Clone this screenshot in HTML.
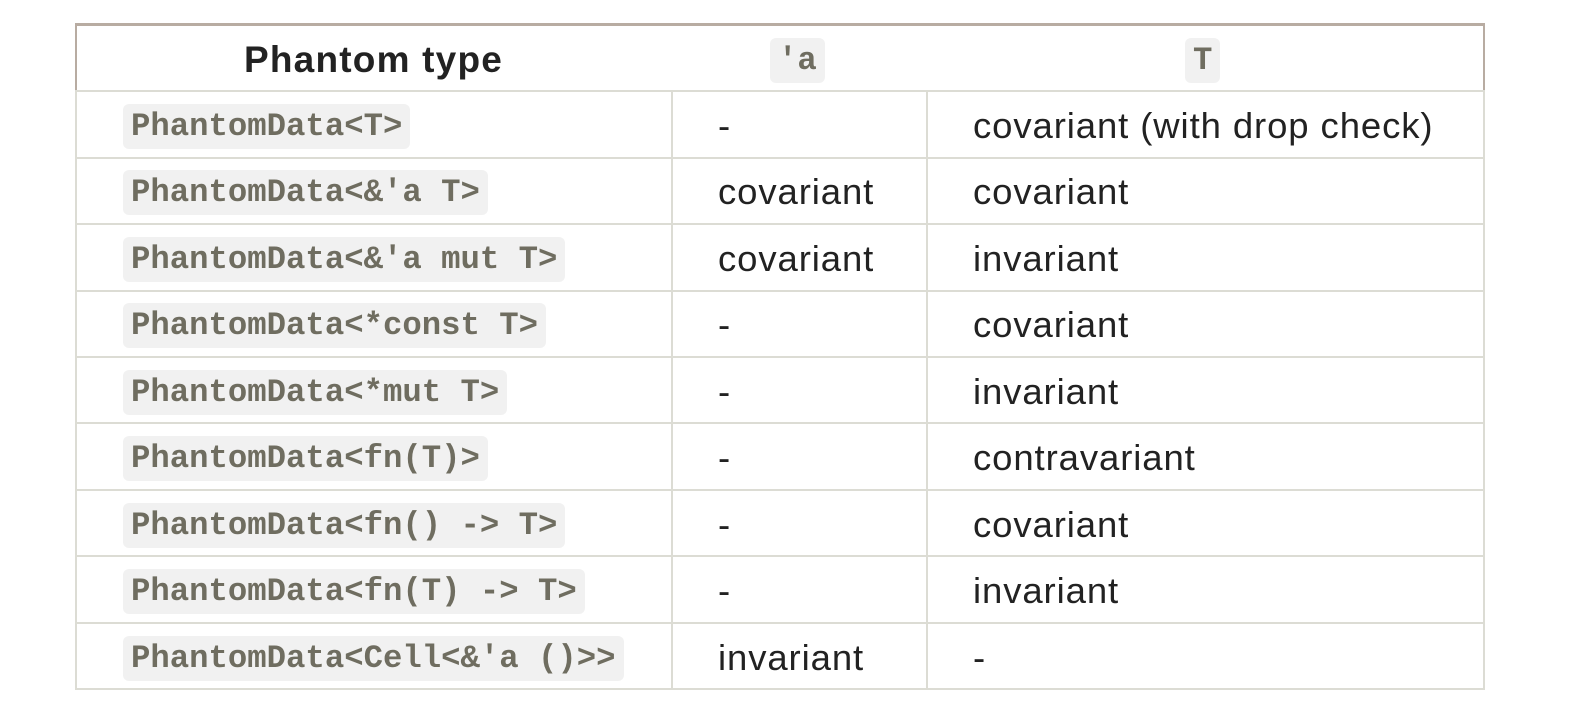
<!DOCTYPE html>
<html><head><meta charset="utf-8"><style>
html,body{margin:0;padding:0;background:#fff;width:1574px;height:720px;overflow:hidden;position:relative}
.h{position:absolute;left:75px;top:23px;width:1410px;height:68px;border-top:3px solid #b8aca2;border-left:2px solid #b8aca2;border-right:2px solid #b8aca2;box-sizing:border-box}
.line{position:absolute;background:#dcdcd4}
.t{position:absolute;font-family:"Liberation Sans",sans-serif;font-size:36.5px;color:#222;line-height:40px;letter-spacing:0.9px}
.c{position:absolute;font-family:"Liberation Mono",monospace;font-size:32.3px;font-weight:bold;color:#6f6d60;background:#f1f1f1;border-radius:6px;padding:0 8px;height:45px;line-height:45px}
.hb{position:absolute;font-family:"Liberation Sans",sans-serif;font-weight:bold;font-size:37px;color:#222;line-height:40px;letter-spacing:1.2px}
</style></head><body>
<div class="h"></div>
<div class="hb" style="left:244px;top:40px">Phantom type</div>
<div class="c" style="left:770px;top:38px">'a</div>
<div class="c" style="left:1185px;top:38px">T</div>
<div class="line" style="left:75px;top:90px;width:1410px;height:2px"></div>
<div class="line" style="left:75px;top:157px;width:1410px;height:2px"></div>
<div class="line" style="left:75px;top:223px;width:1410px;height:2px"></div>
<div class="line" style="left:75px;top:290px;width:1410px;height:2px"></div>
<div class="line" style="left:75px;top:356px;width:1410px;height:2px"></div>
<div class="line" style="left:75px;top:422px;width:1410px;height:2px"></div>
<div class="line" style="left:75px;top:489px;width:1410px;height:2px"></div>
<div class="line" style="left:75px;top:555px;width:1410px;height:2px"></div>
<div class="line" style="left:75px;top:622px;width:1410px;height:2px"></div>
<div class="line" style="left:75px;top:688px;width:1410px;height:2px"></div>
<div class="line" style="left:75px;top:90px;width:2px;height:600px"></div>
<div class="line" style="left:671px;top:90px;width:2px;height:600px"></div>
<div class="line" style="left:926px;top:90px;width:2px;height:600px"></div>
<div class="line" style="left:1483px;top:90px;width:2px;height:600px"></div>

<div class="c" style="left:123px;top:104px">PhantomData&lt;T&gt;</div>
<div class="t" style="left:718px;top:106px">-</div>
<div class="t" style="left:973px;top:106px">covariant (with drop check)</div>

<div class="c" style="left:123px;top:170px">PhantomData&lt;&amp;'a T&gt;</div>
<div class="t" style="left:718px;top:172px">covariant</div>
<div class="t" style="left:973px;top:172px">covariant</div>

<div class="c" style="left:123px;top:237px">PhantomData&lt;&amp;'a mut T&gt;</div>
<div class="t" style="left:718px;top:239px">covariant</div>
<div class="t" style="left:973px;top:239px">invariant</div>

<div class="c" style="left:123px;top:303px">PhantomData&lt;*const T&gt;</div>
<div class="t" style="left:718px;top:305px">-</div>
<div class="t" style="left:973px;top:305px">covariant</div>

<div class="c" style="left:123px;top:370px">PhantomData&lt;*mut T&gt;</div>
<div class="t" style="left:718px;top:372px">-</div>
<div class="t" style="left:973px;top:372px">invariant</div>

<div class="c" style="left:123px;top:436px">PhantomData&lt;fn(T)&gt;</div>
<div class="t" style="left:718px;top:438px">-</div>
<div class="t" style="left:973px;top:438px">contravariant</div>

<div class="c" style="left:123px;top:503px">PhantomData&lt;fn() -&gt; T&gt;</div>
<div class="t" style="left:718px;top:505px">-</div>
<div class="t" style="left:973px;top:505px">covariant</div>

<div class="c" style="left:123px;top:569px">PhantomData&lt;fn(T) -&gt; T&gt;</div>
<div class="t" style="left:718px;top:571px">-</div>
<div class="t" style="left:973px;top:571px">invariant</div>

<div class="c" style="left:123px;top:636px">PhantomData&lt;Cell&lt;&amp;'a ()&gt;&gt;</div>
<div class="t" style="left:718px;top:638px">invariant</div>
<div class="t" style="left:973px;top:638px">-</div>
</body></html>
